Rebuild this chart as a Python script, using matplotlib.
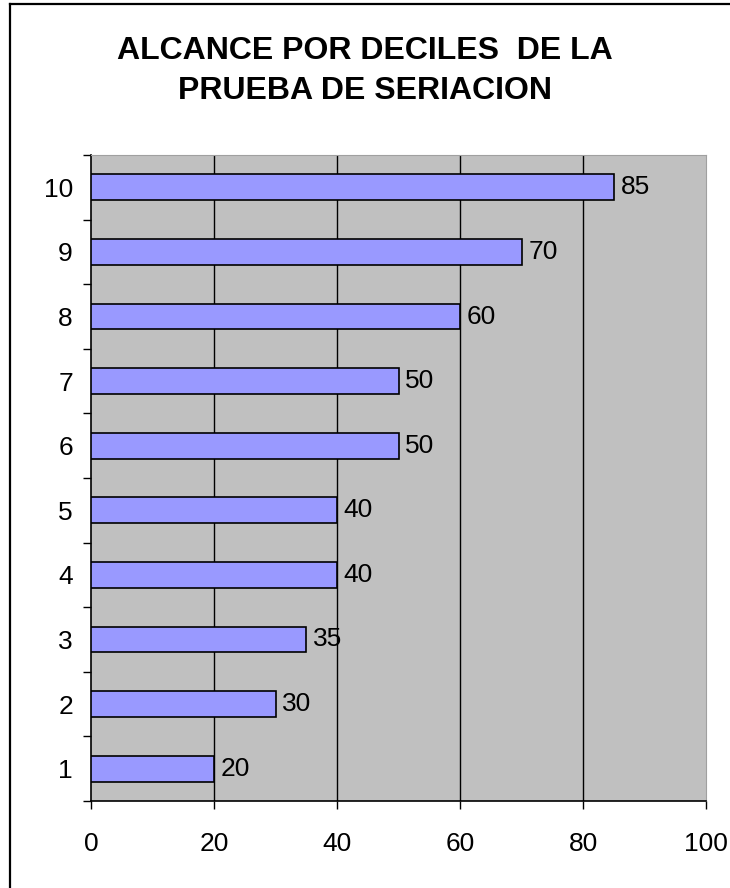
import matplotlib

matplotlib.use("Agg")
import matplotlib.pyplot as plt
from matplotlib.lines import Line2D

plt.rcParams["font.family"] = ["Liberation Sans", "DejaVu Sans"]

deciles = ["1", "2", "3", "4", "5", "6", "7", "8", "9", "10"]
alcance = [20, 30, 35, 40, 40, 50, 50, 60, 70, 85]
x_ticks = [0, 20, 40, 60, 80, 100]

fig = plt.figure(figsize=(7.3, 8.88), dpi=100)
fig.patch.set_facecolor("white")

# frame of the chart area (only top and left edges show in the picture)
fig.add_artist(Line2D([10 / 730, 10 / 730], [0, 1 - 4 / 888], color="black", lw=1.6,
                      transform=fig.transFigure))
fig.add_artist(Line2D([10 / 730, 1], [1 - 4 / 888, 1 - 4 / 888], color="black", lw=1.6,
                      transform=fig.transFigure))

ax = fig.add_axes([91 / 730, 1 - 801 / 888, 615 / 730, 646 / 888])
ax.set_facecolor("#c0c0c0")

pos = list(range(len(deciles)))
ax.barh(pos, alcance, height=0.4, color="#9999ff", edgecolor="black", linewidth=1.2, zorder=3)
for y, v in zip(pos, alcance):
    ax.text(v + 1.1, y, str(v), va="center", ha="left", fontsize=19, zorder=1)

ax.set_xlim(0, 100)
ax.set_ylim(-0.5, len(deciles) - 0.5)
ax.set_xticks(x_ticks)
ax.set_xticklabels([str(t) for t in x_ticks], fontsize=19)
ax.set_yticks(pos)
ax.set_yticklabels(deciles, fontsize=19)
ax.set_yticks([p - 0.5 for p in pos] + [len(deciles) - 0.5], minor=True)

ax.tick_params(axis="y", which="major", length=0, pad=13)
ax.tick_params(axis="y", which="minor", length=6, width=1, color="black")
ax.tick_params(axis="x", which="major", length=6, width=1, pad=16)

for v in x_ticks[1:-1]:
    ax.axvline(v, color="black", lw=1, zorder=2)

ax.spines["left"].set_linewidth(1.2)
ax.spines["bottom"].set_linewidth(1.2)
ax.spines["top"].set_color("#a0a0a0")
ax.spines["right"].set_color("#a0a0a0")

fig.text(0.5, 1 - 71 / 888, "ALCANCE POR DECILES  DE LA\nPRUEBA DE SERIACION",
         ha="center", va="center", fontsize=23, fontweight="bold", linespacing=1.4)

fig.savefig("out.png", dpi=100)
